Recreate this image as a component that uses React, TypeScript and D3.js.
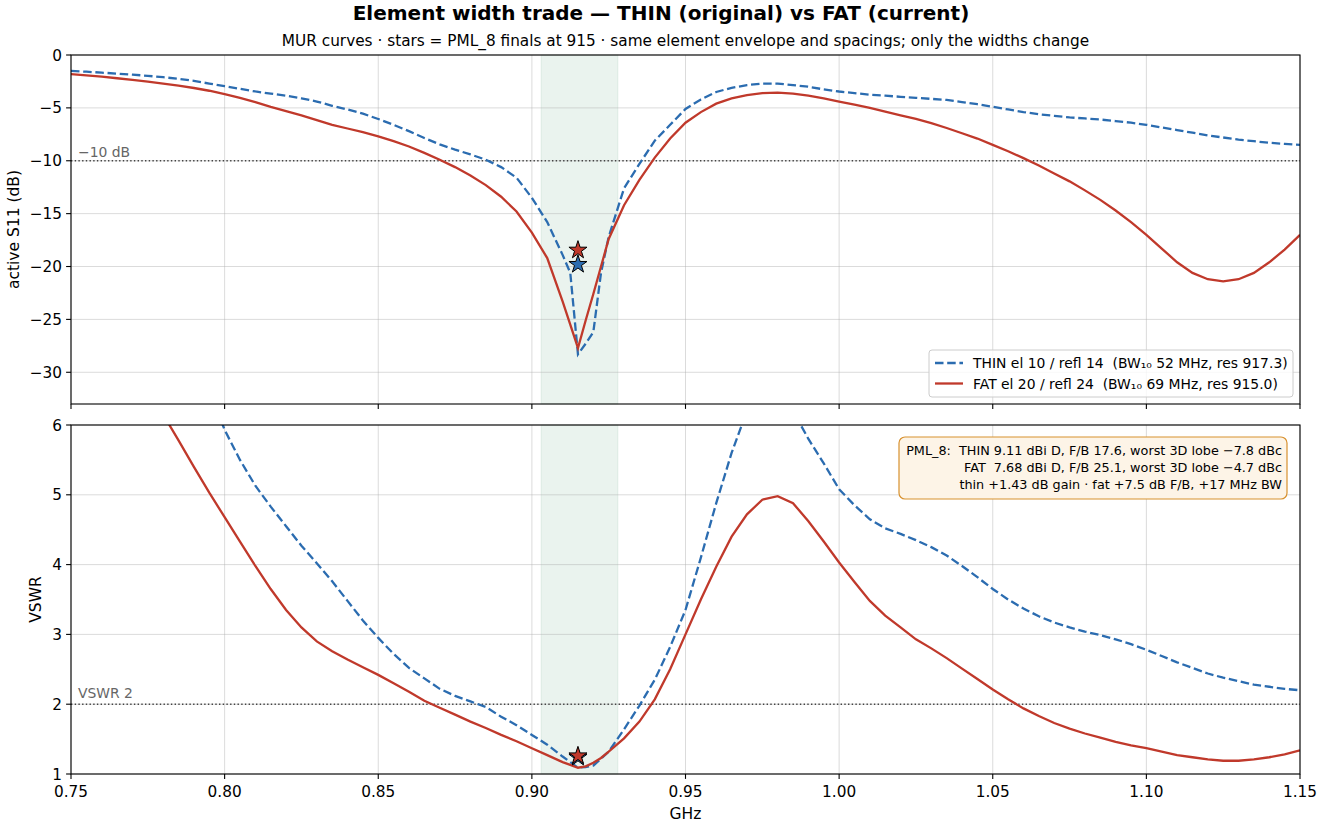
import React from "react";
import * as d3 from "d3";

// frequency grid (GHz), denser around the 915 MHz resonance
const FREQ = [
  0.750, 0.755, 0.760, 0.765, 0.770, 0.775, 0.780, 0.785, 0.790, 0.795,
  0.800, 0.805, 0.810, 0.815, 0.820, 0.825, 0.830, 0.835, 0.840, 0.845,
  0.850, 0.855, 0.860, 0.865, 0.870, 0.875, 0.880, 0.885, 0.890, 0.895,
  0.900, 0.905, 0.910, 0.9125, 0.915, 0.9175, 0.920, 0.9225, 0.925, 0.930,
  0.935, 0.940, 0.945, 0.950, 0.955, 0.960, 0.965, 0.970, 0.975, 0.980,
  0.985, 0.990, 0.995, 1.000, 1.005, 1.010, 1.015, 1.020, 1.025, 1.030,
  1.035, 1.040, 1.045, 1.050, 1.055, 1.060, 1.065, 1.070, 1.075, 1.080,
  1.085, 1.090, 1.095, 1.100, 1.105, 1.110, 1.115, 1.120, 1.125, 1.130,
  1.135, 1.140, 1.145, 1.150,
];

const THIN_S11 = [
  -1.50, -1.58, -1.67, -1.76, -1.86, -1.97, -2.10, -2.25, -2.45, -2.70,
  -2.95, -3.20, -3.45, -3.65, -3.85, -4.10, -4.40, -4.80, -5.15, -5.55,
  -6.05, -6.60, -7.20, -7.85, -8.45, -8.95, -9.40, -9.90, -10.60, -11.60,
  -13.50, -15.80, -18.90, -20.60, -28.30, -27.30, -26.20, -20.60, -17.20, -12.60,
  -10.30, -8.10, -6.60, -5.10, -4.20, -3.50, -3.10, -2.85, -2.70, -2.70,
  -2.85, -3.00, -3.25, -3.45, -3.60, -3.75, -3.85, -3.95, -4.05, -4.15,
  -4.25, -4.45, -4.65, -4.90, -5.15, -5.40, -5.60, -5.75, -5.90, -6.00,
  -6.10, -6.25, -6.40, -6.60, -6.85, -7.10, -7.35, -7.60, -7.80, -8.00,
  -8.15, -8.30, -8.40, -8.50,
];

const FAT_S11 = [
  -1.80, -1.92, -2.05, -2.20, -2.35, -2.52, -2.70, -2.90, -3.12, -3.38,
  -3.70, -4.05, -4.45, -4.90, -5.30, -5.70, -6.15, -6.60, -6.95, -7.30,
  -7.70, -8.15, -8.65, -9.25, -9.90, -10.60, -11.40, -12.30, -13.40, -14.80,
  -16.80, -19.20, -23.30, -25.50, -27.70, -25.10, -22.60, -20.00, -17.40, -14.20,
  -11.80, -9.70, -7.90, -6.40, -5.40, -4.60, -4.10, -3.80, -3.60, -3.55,
  -3.65, -3.85, -4.10, -4.40, -4.70, -5.00, -5.35, -5.70, -6.05, -6.45,
  -6.90, -7.40, -7.90, -8.50, -9.10, -9.75, -10.45, -11.20, -11.95, -12.80,
  -13.70, -14.70, -15.80, -17.00, -18.30, -19.60, -20.60, -21.20, -21.40, -21.20,
  -20.60, -19.60, -18.40, -17.00,
];

const THIN_VSWR = [
  11.6, 11.0, 10.4, 9.9, 9.4, 8.8, 8.3, 7.8, 7.1, 6.5,
  5.93, 5.50, 5.13, 4.83, 4.55, 4.27, 4.02, 3.76, 3.48, 3.20,
  2.95, 2.72, 2.52, 2.37, 2.22, 2.12, 2.04, 1.96, 1.82, 1.70,
  1.56, 1.42, 1.25, 1.17, 1.09, 1.10, 1.12, 1.22, 1.32, 1.64,
  1.98, 2.35, 2.82, 3.35, 4.10, 4.88, 5.60, 6.20, 6.60, 6.60,
  6.20, 5.80, 5.45, 5.08, 4.85, 4.65, 4.52, 4.44, 4.35, 4.25,
  4.13, 3.98, 3.82, 3.65, 3.50, 3.37, 3.26, 3.17, 3.10, 3.04,
  2.99, 2.93, 2.86, 2.78, 2.69, 2.60, 2.52, 2.44, 2.38, 2.33,
  2.28, 2.25, 2.22, 2.20,
];

const FAT_VSWR = [
  9.4, 8.8, 8.2, 7.6, 7.1, 6.6, 6.15, 5.78, 5.40, 5.03,
  4.68, 4.33, 3.98, 3.65, 3.35, 3.10, 2.90, 2.76, 2.64, 2.53,
  2.42, 2.30, 2.18, 2.05, 1.95, 1.85, 1.75, 1.66, 1.56, 1.47,
  1.37, 1.27, 1.17, 1.13, 1.09, 1.11, 1.16, 1.23, 1.32, 1.51,
  1.75, 2.07, 2.50, 3.00, 3.50, 3.97, 4.40, 4.72, 4.93, 4.98,
  4.88, 4.62, 4.33, 4.03, 3.75, 3.48, 3.27, 3.10, 2.93, 2.80,
  2.66, 2.51, 2.36, 2.21, 2.07, 1.94, 1.83, 1.73, 1.65, 1.58,
  1.52, 1.46, 1.41, 1.37, 1.32, 1.27, 1.24, 1.21, 1.19, 1.19,
  1.21, 1.24, 1.28, 1.34,
];

// PML_8 finals at 915 MHz
const STAR_F = 0.915;
const STAR_S11 = { thin: -19.8, fat: -18.45 };
const STAR_VSWR = { thin: 1.24, fat: 1.26 };

const BAND = [0.903, 0.928];
const X_TICKS = [0.75, 0.8, 0.85, 0.9, 0.95, 1.0, 1.05, 1.1, 1.15];
const S11_TICKS = [-30, -25, -20, -15, -10, -5, 0];
const VSWR_TICKS = [1, 2, 3, 4, 5, 6];

// double spaces kept with a no-break space so the svg does not collapse them
const LEGEND = [
  "THIN el 10 / refl 14 \u00a0(BW\u2081\u2080 52 MHz, res 917.3)",
  "FAT el 20 / refl 24 \u00a0(BW\u2081\u2080 69 MHz, res 915.0)",
];
const NOTE = [
  "PML_8: \u00a0THIN 9.11 dBi D, F/B 17.6, worst 3D lobe \u22127.8 dBc",
  "FAT \u00a07.68 dBi D, F/B 25.1, worst 3D lobe \u22124.7 dBc",
  "thin +1.43 dB gain \u00b7 fat +7.5 dB F/B, +17 MHz BW",
];

const BLUE = "#2b6cb0";
const RED = "#c0392b";
const FONT = "DejaVu Sans";
const TICK_FS = 15.3;
const LABEL_FS = 15.5;

const W = 1322;
const H = 828;
const L = 71;
const R = 1300;
const TOP = [55, 404];
const BOT = [425, 774];

const minus = (v: number) => String(v).replace("-", "\u2212");

export default function App() {
  const x = d3.scaleLinear().domain([0.75, 1.15]).range([L, R]);
  const yS = d3.scaleLinear().domain([-33, 0]).range([TOP[1], TOP[0]]);
  const yV = d3.scaleLinear().domain([1, 6]).range([BOT[1], BOT[0]]);

  const lineS = d3.line<number>().x((_, i) => x(FREQ[i])).y((d) => yS(d));
  const lineV = d3.line<number>().x((_, i) => x(FREQ[i])).y((d) => yV(d));

  const star = d3.symbol(d3.symbolStar, 101)() ?? "";

  const panel = (y0: number, y1: number, yScale: d3.ScaleLinear<number, number>, ticks: number[], id: string) => (
    <g>
      <defs>
        <clipPath id={id}>
          <rect x={L} y={y0} width={R - L} height={y1 - y0} />
        </clipPath>
      </defs>
      <rect x={x(BAND[0])} y={y0} width={x(BAND[1]) - x(BAND[0])} height={y1 - y0}
            fill="#2e8b57" fillOpacity={0.1} stroke="#2e8b57" strokeOpacity={0.1} />
      {X_TICKS.map((t) => (
        <line key={"gx" + t} x1={x(t)} x2={x(t)} y1={y0} y2={y1} stroke="#b0b0b0" strokeOpacity={0.45} />
      ))}
      {ticks.map((t) => (
        <line key={"gy" + t} x1={L} x2={R} y1={yScale(t)} y2={yScale(t)} stroke="#b0b0b0" strokeOpacity={0.45} />
      ))}
    </g>
  );

  const frame = (y0: number, y1: number, yScale: d3.ScaleLinear<number, number>, ticks: number[], labels: boolean) => (
    <g>
      <rect x={L} y={y0} width={R - L} height={y1 - y0} fill="none" stroke="#000" strokeWidth={1.1} />
      {ticks.map((t) => (
        <g key={"ty" + t}>
          <line x1={L - 4.9} x2={L} y1={yScale(t)} y2={yScale(t)} stroke="#000" strokeWidth={1.1} />
          <text x={L - 9} y={yScale(t)} dy="0.36em" textAnchor="end" fontSize={TICK_FS}>{minus(t)}</text>
        </g>
      ))}
      {X_TICKS.map((t) => (
        <g key={"tx" + t}>
          <line x1={x(t)} x2={x(t)} y1={y1} y2={y1 + 4.9} stroke="#000" strokeWidth={1.1} />
          {labels && (
            <text x={x(t)} y={y1 + 23} textAnchor="middle" fontSize={TICK_FS}>{d3.format(".2f")(t)}</text>
          )}
        </g>
      ))}
    </g>
  );

  return (
    <svg width={W} height={H} style={{ position: "absolute", left: 0, top: 0, background: "#fff" }}
         fontFamily={FONT}>
      <rect width={W} height={H} fill="#fff" />
      <text x={W / 2} y={20} textAnchor="middle" fontSize={20} fontWeight="bold">
        {"Element width trade — THIN (original) vs FAT (current)"}
      </text>
      <text x={(L + R) / 2} y={46} textAnchor="middle" fontSize={15.3}>
        {"MUR curves · stars = PML_8 finals at 915 · same element envelope and spacings; only the widths change"}
      </text>

      {/* top panel: active S11 */}
      {panel(TOP[0], TOP[1], yS, S11_TICKS, "clipTop")}
      <line x1={L} x2={R} y1={yS(-10)} y2={yS(-10)} stroke="#444" strokeWidth={1.4} strokeDasharray="1.4 2.3" />
      <text x={78} y={157} fontSize={13.9} fill="#666">{"−10 dB"}</text>
      <g clipPath="url(#clipTop)" fill="none">
        <path d={lineS(THIN_S11) ?? ""} stroke={BLUE} strokeWidth={2.3} strokeDasharray="8.5 3.7" />
        <path d={lineS(FAT_S11) ?? ""} stroke={RED} strokeWidth={2.3} />
      </g>
      <path d={star} transform={`translate(${x(STAR_F)},${yS(STAR_S11.fat)})`} fill={RED} stroke="#000" strokeWidth={1} />
      <path d={star} transform={`translate(${x(STAR_F)},${yS(STAR_S11.thin)})`} fill={BLUE} stroke="#000" strokeWidth={1} />
      {frame(TOP[0], TOP[1], yS, S11_TICKS, false)}
      <text transform={`translate(18.5,${(TOP[0] + TOP[1]) / 2}) rotate(-90)`} textAnchor="middle" fontSize={LABEL_FS}>
        {"active S11 (dB)"}
      </text>

      {/* legend */}
      <g>
        <rect x={929} y={350} width={364} height={47} rx={3} fill="#fff" fillOpacity={0.8} stroke="#cccccc" />
        <line x1={935} x2={963} y1={363} y2={363} stroke={BLUE} strokeWidth={2.3} strokeDasharray="8.5 3.7" />
        <line x1={935} x2={963} y1={383.5} y2={383.5} stroke={RED} strokeWidth={2.3} />
        <text x={973} y={363} dy="0.36em" fontSize={13.9}>{LEGEND[0]}</text>
        <text x={973} y={383.5} dy="0.36em" fontSize={13.9}>{LEGEND[1]}</text>
      </g>

      {/* bottom panel: VSWR */}
      {panel(BOT[0], BOT[1], yV, VSWR_TICKS, "clipBot")}
      <line x1={L} x2={R} y1={yV(2)} y2={yV(2)} stroke="#444" strokeWidth={1.4} strokeDasharray="1.4 2.3" />
      <text x={78} y={698} fontSize={13.9} fill="#666">{"VSWR 2"}</text>
      <g clipPath="url(#clipBot)" fill="none">
        <path d={lineV(THIN_VSWR) ?? ""} stroke={BLUE} strokeWidth={2.3} strokeDasharray="8.5 3.7" />
        <path d={lineV(FAT_VSWR) ?? ""} stroke={RED} strokeWidth={2.3} />
      </g>
      <path d={star} transform={`translate(${x(STAR_F)},${yV(STAR_VSWR.thin)})`} fill={BLUE} stroke="#000" strokeWidth={1} />
      <path d={star} transform={`translate(${x(STAR_F)},${yV(STAR_VSWR.fat)})`} fill={RED} stroke="#000" strokeWidth={1} />
      {frame(BOT[0], BOT[1], yV, VSWR_TICKS, true)}
      <text transform={`translate(41,${(BOT[0] + BOT[1]) / 2}) rotate(-90)`} textAnchor="middle" fontSize={LABEL_FS}>
        {"VSWR"}
      </text>
      <text x={(L + R) / 2} y={819} textAnchor="middle" fontSize={LABEL_FS}>{"GHz"}</text>

      {/* PML_8 note */}
      <g>
        <rect x={899} y={437} width={388} height={62} rx={6} fill="#fdf4e7" stroke="#d8912f" strokeWidth={1.2} />
        {NOTE.map((s, i) => (
          <text key={i} x={1282} y={450.7 + i * 16.8} dy="0.36em" textAnchor="end" fontSize={12.8}>{s}</text>
        ))}
      </g>
    </svg>
  );
}
